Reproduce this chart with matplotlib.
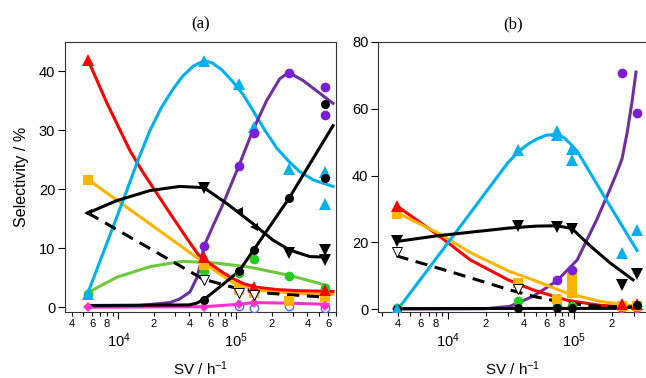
import numpy as np
import matplotlib.pyplot as plt
from matplotlib.ticker import LogLocator, FuncFormatter

plt.rcParams['font.family'] = ['Liberation Sans', 'DejaVu Sans']
plt.rcParams['mathtext.fontset'] = 'custom'
plt.rcParams['mathtext.rm'] = 'Liberation Sans'
plt.rcParams['mathtext.it'] = 'Liberation Sans:italic'
plt.rcParams['mathtext.bf'] = 'Liberation Sans:bold'

nan = np.nan

# ---------------- panel (a): measured points ----------------
sv_a = [5.5e3, 5.3e4, 1.05e5, 1.4e5, 2.8e5, 5.6e5]
a_red = [42.0, 8.5, nan, 3.4, nan, 3.0]
a_cyan = [2.3, 41.7, 37.9, 30.6, 23.5, 23.0]
a_purple = [nan, 10.4, 24.0, 29.6, 39.7, 37.3]
a_bdot = [nan, 1.3, 6.1, 9.7, 18.5, 22.0]
a_tri_down = [nan, 20.3, nan, nan, 9.2, 9.8]
a_tri_left = [16.0, nan, 16.4, 13.7, nan, nan]
a_open = [nan, 4.6, 2.4, 2.0, nan, nan]
a_orange = [21.6, 7.1, 3.0, 2.5, 1.0, 1.8]
a_green = [2.3, 6.2, 5.8, 8.2, 5.3, 3.2]
a_magenta = [0.0, 0.0, 0.5, 0.7, nan, 0.2]
a_blue = [nan, nan, 0.2, -0.2, 0.2, -0.2]
# repeated runs at the highest SV
a_extra_sv = 5.6e5
a_extra_cyan = 17.5
a_extra_purple = 32.7
a_extra_bdot = 34.4
a_extra_tri = 8.0

# ---------------- panel (a): fitted curves ----------------
a_red_fit_sv = [5.5e3, 8.0e3, 1.25e4, 1.6e4, 2.12e4, 2.6e4, 3.13e4, 3.8e4, 4.72e4, 5.5e4,
                6.5e4, 7.8e4, 9.3e4, 1.15e5, 1.49e5, 2.2e5, 3.45e5, 6.6e5]
a_red_fit = [42.0, 34.6, 26.6, 23.0, 19.3, 16.6, 14.2, 11.7, 9.0, 7.9,
             6.9, 5.8, 4.9, 4.0, 3.4, 3.0, 2.8, 2.7]
a_cyan_fit_sv = [5.5e3, 1.07e4, 1.5e4, 1.85e4, 2.3e4, 2.9e4, 3.5e4, 4.3e4, 5.3e4, 6.2e4,
                 7.5e4, 9.3e4, 1.15e5, 1.38e5, 1.75e5, 2.2e5, 2.8e5, 3.45e5, 4.5e5, 6.6e5]
a_cyan_fit = [2.4, 17.6, 25.5, 30.0, 33.8, 37.0, 39.2, 40.9, 41.8, 41.5,
              40.3, 38.3, 36.0, 33.4, 30.0, 27.0, 24.7, 23.0, 21.6, 20.5]
a_purple_fit_sv = [5.5e3, 1.5e4, 2.73e4, 3.3e4, 4.04e4, 4.62e4, 5.0e4, 5.3e4, 6.4e4, 7.7e4,
                   1.05e5, 1.38e5, 1.81e5, 2.34e5, 2.79e5, 3.66e5, 6.6e5]
a_purple_fit = [0.2, 0.3, 0.8, 1.4, 2.6, 5.0, 7.5, 10.3, 14.0, 17.5,
                24.0, 30.0, 35.1, 38.8, 39.8, 38.5, 34.6]
a_bdot_fit_sv = [5.5e3, 4.0e4, 4.6e4, 5.3e4, 7.5e4, 1.05e5, 1.4e5, 2.8e5, 6.6e5]
a_bdot_fit = [0.3, 0.4, 0.7, 1.3, 3.7, 6.1, 9.7, 18.5, 30.8]
a_tri_fit_sv = [5.5e3, 9.7e3, 1.85e4, 3.3e4, 5.3e4, 8.3e4, 1.38e5, 2.04e5, 2.84e5, 4.2e5, 5.85e5]
a_tri_fit = [16.0, 18.1, 19.8, 20.5, 20.3, 17.6, 14.2, 11.4, 9.7, 8.6, 8.5]
a_dash_sv = [5.5e3, 2.58e4, 5.2e4, 9.3e4, 1.81e5, 5.85e5]
a_dash = [16.0, 8.3, 4.8, 3.4, 2.4, 1.7]
a_orange_fit_sv = [5.5e3, 4.72e4, 6.5e4, 9.3e4, 1.49e5, 3.45e5, 6.6e5]
a_orange_fit = [21.7, 8.3, 6.3, 4.2, 2.9, 2.3, 2.2]
a_green_fit_sv = [5.5e3, 9.7e3, 1.85e4, 3.5e4, 6.8e4, 1.3e5, 2.84e5, 5.85e5]
a_green_fit = [2.5, 5.1, 6.9, 7.8, 7.5, 6.8, 5.4, 3.7]
a_mag_fit_sv = [5.5e3, 5.3e4, 1.05e5, 1.4e5, 2.8e5, 6.0e5]
a_mag_fit = [0.0, 0.1, 0.5, 0.8, 0.7, 0.5]

# ---------------- panel (b): measured points ----------------
sv_b = [3.9e3, 3.6e4, 7.3e4, 9.6e4, 2.4e5, 3.16e5]
b_cyan = [0.0, 47.8, 53.5, 48.0, 16.9, 23.6]
b_purple = [nan, nan, 8.7, 11.8, 70.8, 58.8]
b_tri = [20.4, 25.0, 24.6, 24.0, 7.2, 10.6]
b_open = [17.3, 6.0, nan, nan, nan, nan]
b_red = [30.8, nan, nan, nan, 1.5, 1.5]
b_orange = [28.5, 7.8, 3.0, 9.8, 1.0, 1.0]
b_green = [0.5, 2.5, 1.0, 1.0, 1.0, 1.0]
b_bdot = [0.2, 0.3, 0.3, 0.3, nan, 1.2]
b_magenta = [0.0, nan, nan, nan, -0.3, -0.3]
b_extra_cyan_sv = [7.3e4, 9.6e4]
b_extra_cyan = [52.3, 44.6]
b_extra_orange_sv = [9.6e4, 9.6e4]
b_extra_orange = [7.3, 4.8]

# ---------------- panel (b): fitted curves ----------------
b_cyan_fit_sv = [4.0e3, 1.25e4, 3.0e4, 3.73e4, 4.3e4, 5.08e4, 6.0e4, 7.3e4, 8.3e4, 9.3e4,
                 1.06e5, 1.93e5, 3.16e5]
b_cyan_fit = [0.0, 24.8, 44.0, 47.6, 49.4, 51.0, 52.1, 52.4, 51.4, 49.6,
              47.3, 30.9, 17.6]
b_purple_fit_sv = [3.9e3, 2.0e4, 3.1e4, 4.73e4, 7.3e4, 1.06e5, 1.52e5, 1.93e5, 2.19e5,
                   2.4e5, 2.64e5, 2.88e5, 3.1e5]
b_purple_fit = [0.1, 0.2, 0.9, 3.9, 8.5, 14.8, 27.0, 36.0, 41.0, 45.0, 53.0, 62.0, 71.0]
b_tri_fit_sv = [3.9e3, 8.2e3, 3.0e4, 5.0e4, 7.3e4, 9.6e4, 1.34e5, 1.93e5, 2.94e5]
b_tri_fit = [20.3, 22.0, 24.3, 24.9, 25.0, 24.2, 19.0, 13.9, 8.8]
b_dash_sv = [3.9e3, 1.1e4, 3.1e4, 4.73e4, 8.8e4, 1.6e5, 3.16e5]
b_dash = [16.0, 11.0, 5.8, 3.9, 1.8, 0.9, 0.6]
b_fit_sv = [3.9e3, 8.2e3, 1.5e4, 3.0e4, 4.73e4, 8.8e4, 1.6e5, 3.16e5]
b_red_fit = [31.0, 22.4, 14.8, 8.8, 5.8, 2.7, 1.2, 0.6]
b_orange_fit = [29.0, 23.0, 17.0, 11.5, 8.8, 4.8, 2.4, 0.9]
b_bdot_fit_sv = [3.9e3, 2.4e5, 3.16e5]
b_bdot_fit = [0.2, 0.3, 1.0]

RED = '#ff0000'
CYAN = '#00b0f0'
PURPLE_L = '#7030a0'
PURPLE_M = '#7b1fd6'
ORANGE = '#ffb400'
GREEN_L = '#6cc83c'
GREEN_M = '#22cc22'
MAGENTA = '#ff33cc'
BLUE = '#4a6cff'

LW = 2.2
MS = 7


def style_axis(ax, xlim, ylim, yticks):
    ax.set_xscale('log')
    ax.set_xlim(*xlim)
    ax.set_ylim(*ylim)
    ax.set_yticks(yticks)
    ax.xaxis.set_major_locator(LogLocator(base=10, numticks=10))
    ax.xaxis.set_minor_locator(LogLocator(base=10, subs=np.arange(2, 10), numticks=10))
    ax.xaxis.set_major_formatter(FuncFormatter(lambda v, p: r'$10^{%d}$' % round(np.log10(v))))

    def minor_fmt(v, p):
        d = int(round(v / 10 ** np.floor(np.log10(v) + 1e-9)))
        return str(d) if d in (2, 4, 6, 8) else ''
    ax.xaxis.set_minor_formatter(FuncFormatter(minor_fmt))
    ax.tick_params(axis='x', which='major', direction='out', length=5, width=0.8,
                   pad=9, labelsize=10.5)
    ax.tick_params(axis='x', which='minor', direction='out', length=3, width=0.8,
                   pad=2, labelsize=8)
    ax.tick_params(axis='y', which='major', direction='out', length=5, width=0.8,
                   pad=2, labelsize=10.5)
    ax.tick_params(axis='y', which='minor', left=False)
    for s in ax.spines.values():
        s.set_linewidth(0.8)
        s.set_color('#333333')
    ax.set_xlabel('SV / h$^{-1}$', fontsize=11, labelpad=7)


def pts(ax, x, y, marker, color, ms=MS, mfc=None, mew=0.0, z=5):
    ax.plot(x, y, linestyle='none', marker=marker, ms=ms, color=color,
            mfc=mfc if mfc is not None else color, mec=color, mew=mew, zorder=z)


fig = plt.figure(figsize=(6.46, 3.78), dpi=100)
ax1 = fig.add_axes([65 / 646, 66 / 378, 271 / 646, 270 / 378])
ax2 = fig.add_axes([378 / 646, 66 / 378, 270 / 646, 270 / 378])

# ---- panel (a) ----
ax = ax1
ax.plot(a_green_fit_sv, a_green_fit, color=GREEN_L, lw=LW, zorder=2)
ax.plot(a_mag_fit_sv, a_mag_fit, color=MAGENTA, lw=LW, zorder=2)
ax.plot(a_orange_fit_sv, a_orange_fit, color=ORANGE, lw=LW, zorder=2)
ax.plot(a_red_fit_sv, a_red_fit, color=RED, lw=LW, zorder=2)
ax.plot(a_dash_sv, a_dash, color='black', lw=LW, ls=(0, (4, 2.5)), zorder=3)
ax.plot(a_cyan_fit_sv, a_cyan_fit, color=CYAN, lw=LW, zorder=2)
ax.plot(a_purple_fit_sv, a_purple_fit, color=PURPLE_L, lw=LW, zorder=2)
ax.plot(a_bdot_fit_sv, a_bdot_fit, color='black', lw=LW, zorder=3)
ax.plot(a_tri_fit_sv, a_tri_fit, color='black', lw=LW, zorder=3)

pts(ax, sv_a, a_blue, 'o', BLUE, ms=6, mfc='none', mew=1.0)
pts(ax, sv_a, a_green, 'o', GREEN_M)
pts(ax, sv_a, a_orange, 's', ORANGE)
pts(ax, sv_a, a_red, '^', RED, ms=8)
pts(ax, sv_a, a_magenta, 'D', MAGENTA, ms=5.5)
pts(ax, sv_a, a_open, 'v', 'black', ms=7, mfc='white', mew=0.7)
pts(ax, sv_a, a_cyan, '^', CYAN, ms=8)
pts(ax, [a_extra_sv], [a_extra_cyan], '^', CYAN, ms=8)
pts(ax, sv_a, a_purple, 'o', PURPLE_M)
pts(ax, [a_extra_sv], [a_extra_purple], 'o', PURPLE_M)
pts(ax, sv_a, a_bdot, 'o', 'black', ms=6.5)
pts(ax, [a_extra_sv], [a_extra_bdot], 'o', 'black', ms=6.5)
pts(ax, sv_a, a_tri_down, 'v', 'black', ms=8)
pts(ax, [a_extra_sv], [a_extra_tri], 'v', 'black', ms=8)
pts(ax, sv_a, a_tri_left, '<', 'black', ms=6)

style_axis(ax, (3.52e3, 7.0e5), (-0.8, 45), [0, 10, 20, 30, 40])
ax.set_ylabel('Selectivity / %', fontsize=11.5, labelpad=7)
ax.set_title('(a)', fontsize=12, family=['Liberation Serif', 'DejaVu Serif'], pad=10)

# ---- panel (b) ----
ax = ax2
ax.plot(b_bdot_fit_sv, b_bdot_fit, color='black', lw=LW, zorder=3)
ax.plot(b_purple_fit_sv, b_purple_fit, color=PURPLE_L, lw=LW, zorder=2)
ax.plot(b_fit_sv, b_red_fit, color=RED, lw=LW, zorder=2)
ax.plot(b_fit_sv, b_orange_fit, color=ORANGE, lw=LW, zorder=2)
ax.plot(b_dash_sv, b_dash, color='black', lw=LW, ls=(0, (4, 2.5)), zorder=3)
ax.plot(b_tri_fit_sv, b_tri_fit, color='black', lw=LW, zorder=3)
ax.plot(b_cyan_fit_sv, b_cyan_fit, color=CYAN, lw=LW, zorder=2)

pts(ax, sv_b, b_green, 'o', GREEN_M)
pts(ax, sv_b, b_magenta, 'D', MAGENTA, ms=5.5)
pts(ax, sv_b, b_orange, 's', ORANGE)
pts(ax, b_extra_orange_sv, b_extra_orange, 's', ORANGE)
pts(ax, sv_b, b_red, '^', RED, ms=8)
pts(ax, sv_b, b_open, 'v', 'black', ms=7, mfc='white', mew=0.7)
pts(ax, sv_b, b_bdot, 'o', 'black', ms=6.5)
pts(ax, sv_b, b_purple, 'o', PURPLE_M)
pts(ax, sv_b, b_tri, 'v', 'black', ms=8)
pts(ax, sv_b, b_cyan, '^', CYAN, ms=8)
pts(ax, b_extra_cyan_sv, b_extra_cyan, '^', CYAN, ms=8)

style_axis(ax, (2.78e3, 3.86e5), (-0.8, 80), [0, 20, 40, 60, 80])
ax.set_title('(b)', fontsize=12, family=['Liberation Serif', 'DejaVu Serif'], pad=10)

fig.savefig('out.png', dpi=100)
